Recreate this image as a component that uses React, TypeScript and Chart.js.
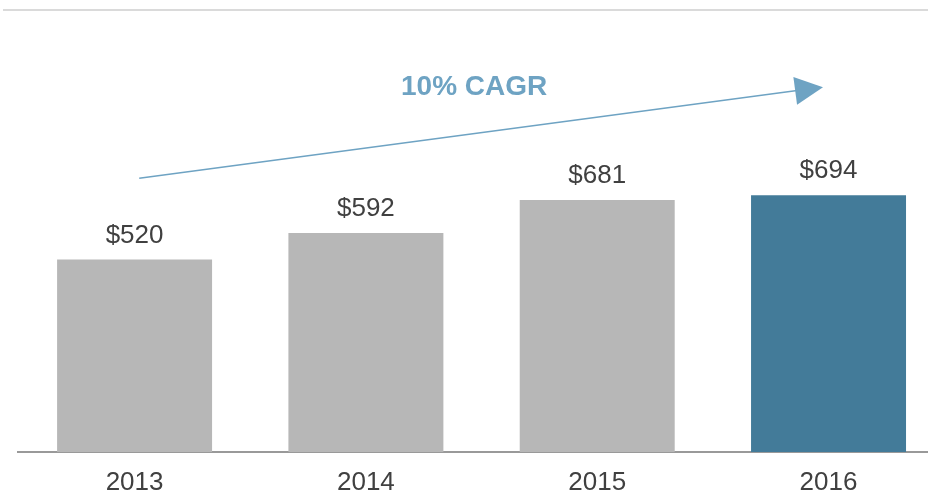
import React, { useEffect, useRef } from "react";
import { Chart, registerables } from "chart.js";

Chart.register(...registerables);

const categories = ["2013", "2014", "2015", "2016"];
const revenue = [520, 592, 681, 694];
const barColors = ["#b7b7b7", "#b7b7b7", "#b7b7b7", "#437b99"];
const valueLabels = revenue.map((v) => "$" + v);
const cagrLabel = "10% CAGR";
// annotation arrow anchored in data coordinates (x: category index, y: value)
const arrowStart = { x: 0.02, y: 740 };
const arrowTip = { x: 2.976, y: 986 };
const cagrTextPos = { x: 1.468, y: 986 };

const FONT = "'Liberation Sans', Arial, sans-serif";
const ACCENT = "#6ea3c3";
const TEXT = "#404040";

const overlayPlugin = {
  id: "overlay",
  afterDatasetsDraw(chart: any) {
    const { ctx, chartArea, scales } = chart;
    const xs = scales.x;
    const ys = scales.y;
    ctx.save();
    // top rule
    ctx.strokeStyle = "#dadada";
    ctx.lineWidth = 2;
    ctx.beginPath();
    ctx.moveTo(3, chartArea.top + 2);
    ctx.lineTo(chart.width, chartArea.top + 2);
    ctx.stroke();

    // value labels
    const meta = chart.getDatasetMeta(0);
    ctx.font = `26px ${FONT}`;
    ctx.fillStyle = TEXT;
    ctx.textAlign = "center";
    ctx.textBaseline = "alphabetic";
    meta.data.forEach((bar: any, i: number) => {
      ctx.fillText(valueLabels[i], bar.x, bar.y - 17);
    });

    // CAGR arrow
    const x0 = xs.getPixelForValue(arrowStart.x);
    const y0 = ys.getPixelForValue(arrowStart.y);
    const x1 = xs.getPixelForValue(arrowTip.x);
    const y1 = ys.getPixelForValue(arrowTip.y);
    const ang = Math.atan2(y1 - y0, x1 - x0);
    const headLen = 28;
    const headHalf = 14;
    const bx = x1 - headLen * Math.cos(ang);
    const by = y1 - headLen * Math.sin(ang);
    ctx.strokeStyle = ACCENT;
    ctx.lineWidth = 1.5;
    ctx.beginPath();
    ctx.moveTo(x0, y0);
    ctx.lineTo(bx + 2 * Math.cos(ang), by + 2 * Math.sin(ang));
    ctx.stroke();
    ctx.fillStyle = ACCENT;
    ctx.beginPath();
    ctx.moveTo(x1, y1);
    ctx.lineTo(bx + headHalf * Math.sin(ang), by - headHalf * Math.cos(ang));
    ctx.lineTo(bx - headHalf * Math.sin(ang), by + headHalf * Math.cos(ang));
    ctx.closePath();
    ctx.fill();

    // CAGR text
    ctx.font = `bold 28px ${FONT}`;
    ctx.fillStyle = ACCENT;
    ctx.textAlign = "center";
    ctx.textBaseline = "middle";
    ctx.fillText(
      cagrLabel,
      xs.getPixelForValue(cagrTextPos.x),
      ys.getPixelForValue(cagrTextPos.y)
    );
    ctx.restore();
  },
};

export default function App() {
  const canvasRef = useRef<HTMLCanvasElement | null>(null);

  useEffect(() => {
    if (!canvasRef.current) return;
    const chart = new Chart(canvasRef.current, {
      type: "bar",
      data: {
        datasets: [
          {
            data: revenue.map((v, i) => ({ x: i, y: v })),
            backgroundColor: barColors,
            borderWidth: 0,
            barPercentage: 0.67,
            categoryPercentage: 1,
          },
        ],
      },
      options: {
        animation: false,
        responsive: false,
        maintainAspectRatio: false,
        layout: { padding: { left: 18, right: 0, top: 8, bottom: 0 } },
        plugins: {
          legend: { display: false },
          tooltip: { enabled: false },
        },
        scales: {
          x: {
            type: "linear",
            offset: false,
            min: -0.504,
            max: 3.43,
            afterBuildTicks: (scale: any) => {
              scale.ticks = categories.map((_, i) => ({ value: i }));
            },
            afterFit: (scale: any) => {
              scale.height = 43;
            },
            grid: { display: false, drawTicks: false, offset: false },
            border: { display: true, color: "#999999", width: 2 },
            ticks: {
              padding: 18,
              color: TEXT,
              font: { family: FONT, size: 26, lineHeight: 1 },
              maxRotation: 0,
              autoSkip: false,
              callback: (v: any) => categories[Math.round(Number(v))] ?? "",
            },
          },
          y: {
            display: false,
            min: 0,
            max: 1200,
          },
        },
      },
      plugins: [overlayPlugin],
    });
    return () => chart.destroy();
  }, []);

  return (
    <div style={{ position: "absolute", left: 0, top: 0, width: 928, height: 495 }}>
      <canvas ref={canvasRef} width={928} height={495} style={{ width: 928, height: 495 }} />
    </div>
  );
}
